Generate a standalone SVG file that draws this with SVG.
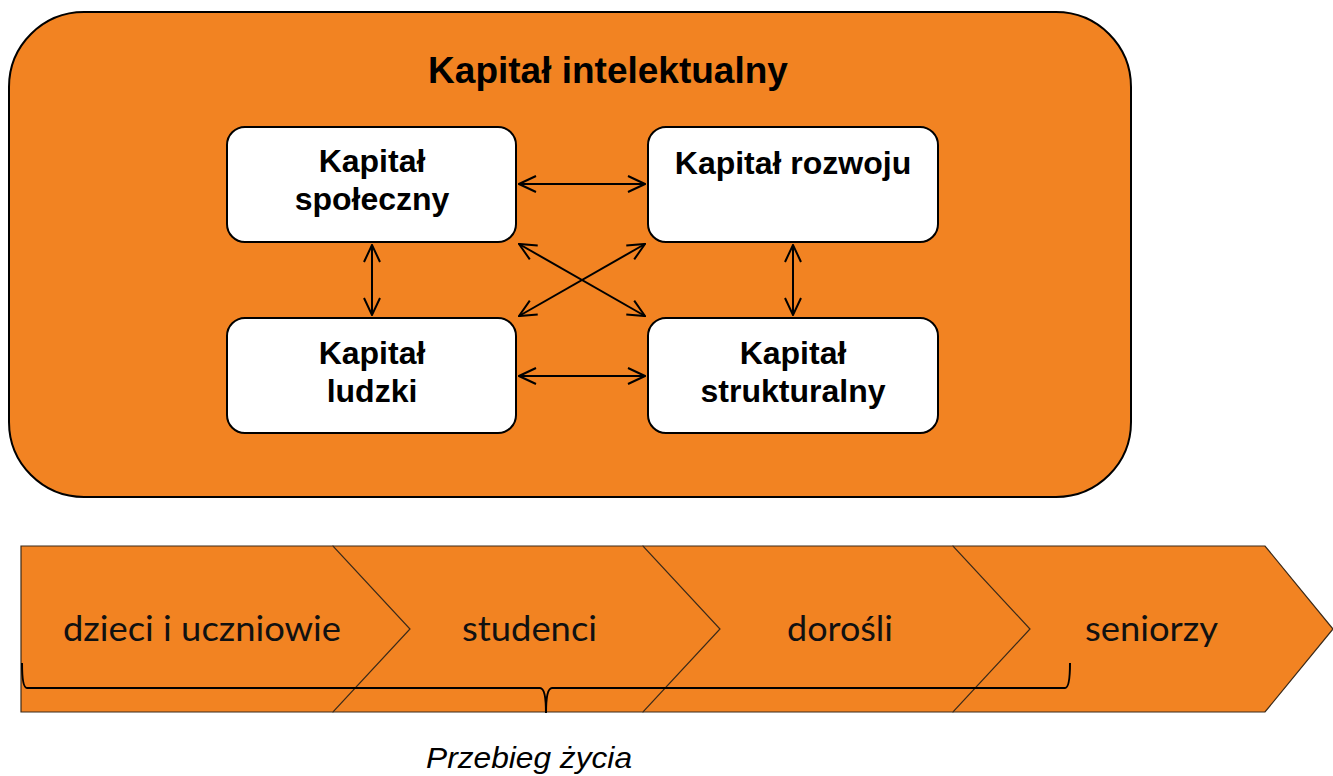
<svg xmlns="http://www.w3.org/2000/svg" width="1333" height="776" viewBox="0 0 1333 776">
<style>
.box{fill:#fff;stroke:#000;stroke-width:2}
.bt{font-family:"Liberation Sans",Arial,sans-serif;font-weight:bold;font-size:32px;text-anchor:middle;fill:#000}
.conn{stroke:#000;stroke-width:2;fill:none;marker-start:url(#ah);marker-end:url(#ah)}
.chev{fill:#f28322;stroke:#3a2a1a;stroke-width:1.2}
.ct{font-family:"Lato","Open Sans",sans-serif;font-size:35px;text-anchor:middle;fill:#111}
</style>
<defs>
<marker id="ah" viewBox="0 0 20 20" refX="19" refY="10" markerWidth="20" markerHeight="20" markerUnits="userSpaceOnUse" orient="auto-start-reverse">
<path d="M2,2 L19,10 L2,18" fill="none" stroke="#000" stroke-width="2"/>
</marker>
</defs>
<g id="outer">
<rect x="9" y="12" width="1122" height="485" rx="75" ry="75" fill="#f28322" stroke="#000" stroke-width="2"/>
<text x="608" y="83" font-family="Liberation Sans,Arial,sans-serif" font-weight="bold" font-size="37" text-anchor="middle">Kapitał intelektualny</text>
</g>
<g id="spoleczny">
<rect class="box" x="227" y="127" width="289" height="115" rx="18"/>
<text class="bt" x="372" y="172">Kapitał</text>
<text class="bt" x="372" y="210">społeczny</text>
</g>
<g id="rozwoju">
<rect class="box" x="648" y="127" width="290" height="115" rx="18"/>
<text class="bt" x="793" y="174">Kapitał rozwoju</text>
</g>
<g id="ludzki">
<rect class="box" x="227" y="318" width="289" height="115" rx="18"/>
<text class="bt" x="372" y="364">Kapitał</text>
<text class="bt" x="372" y="402">ludzki</text>
</g>
<g id="strukturalny">
<rect class="box" x="648" y="318" width="290" height="115" rx="18"/>
<text class="bt" x="793" y="364">Kapitał</text>
<text class="bt" x="793" y="402">strukturalny</text>
</g>
<g id="connectors">
<line class="conn" x1="519" y1="184" x2="645" y2="184"/>
<line class="conn" x1="519" y1="376" x2="645" y2="376"/>
<line class="conn" x1="519" y1="244" x2="645" y2="316"/>
<line class="conn" x1="645" y1="244" x2="519" y2="316"/>
<line class="conn" x1="372" y1="245" x2="372" y2="315"/>
<line class="conn" x1="793" y1="245" x2="793" y2="315"/>
</g>
<g id="seniorzy">
<path class="chev" d="M953,546 L1265,546 L1333,629 L1265,712 L953,712 Z"/>
<text class="ct" x="1151.5" y="641" textLength="133" lengthAdjust="spacingAndGlyphs">seniorzy</text>
</g>
<g id="dorosli">
<path class="chev" d="M643,546 L953,546 L1030,629 L953,712 L643,712 Z"/>
<text class="ct" x="840" y="641" textLength="106" lengthAdjust="spacingAndGlyphs">dorośli</text>
</g>
<g id="studenci">
<path class="chev" d="M333,546 L643,546 L720,629 L643,712 L333,712 Z"/>
<text class="ct" x="529.5" y="641" textLength="135" lengthAdjust="spacingAndGlyphs">studenci</text>
</g>
<g id="dzieci">
<path class="chev" d="M21,546 L333,546 L410,629 L333,712 L21,712 Z"/>
<text class="ct" x="202" y="641" textLength="278" lengthAdjust="spacingAndGlyphs">dzieci i uczniowie</text>
</g>
<g id="brace">
<path d="M22,663 Q22,688 27,688 L540,688 Q546,688 546,713 Q546,688 552,688 L1065,688 Q1070,688 1070,663" fill="none" stroke="#000" stroke-width="2"/>
<text x="529" y="768" font-family="Liberation Sans,Arial,sans-serif" font-style="italic" font-size="30" text-anchor="middle" textLength="206" lengthAdjust="spacingAndGlyphs">Przebieg życia</text>
</g>
</svg>
